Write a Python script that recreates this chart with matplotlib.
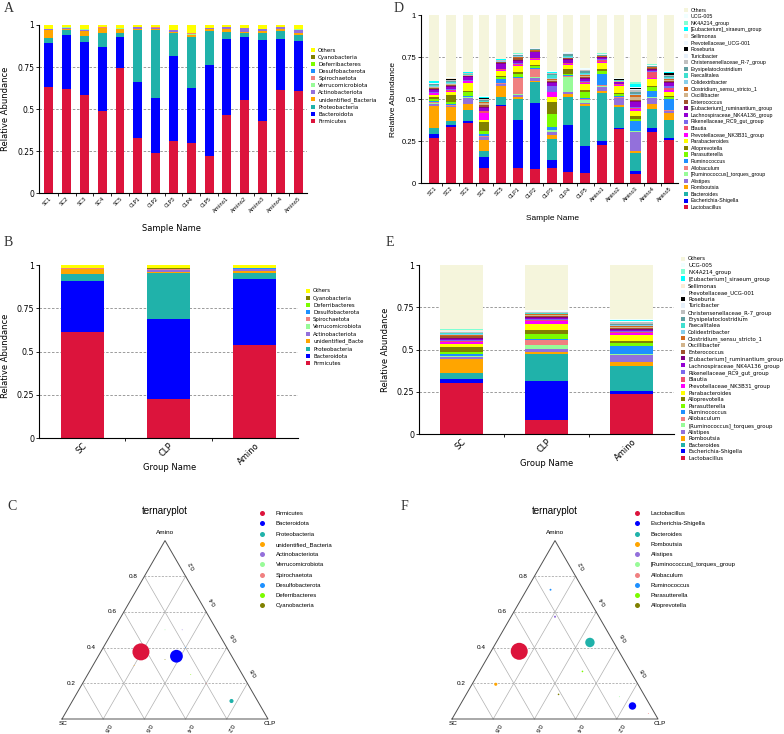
import matplotlib
matplotlib.use("Agg")
import matplotlib.pyplot as plt
import numpy as np
from matplotlib.patches import Patch
from matplotlib.lines import Line2D

# ---------------- data: phylum level (panel A, B, C) ----------------
samples = ["SC1", "SC2", "SC3", "SC4", "SC5", "CLP1", "CLP2", "CLP3", "CLP4", "CLP5",
           "Amino1", "Amino2", "Amino3", "Amino4", "Amino5"]
groups = ["SC", "CLP", "Amino"]

phyla = ["Firmicutes", "Bacteroidota", "Proteobacteria", "unidentified_Bacteria",
         "Actinobacteriota", "Verrucomicrobiota", "Spirochaetota", "Desulfobacterota",
         "Deferribacteres", "Cyanobacteria", "Others"]
phyla_legend_B = ["Firmicutes", "Bacteroidota", "Proteobacteria", "unidentified_Bacte",
                  "Actinobacteriota", "Verrucomicrobiota", "Spirochaetota", "Desulfobacterota",
                  "Deferribacteres", "Cyanobacteria", "Others"]
phyla_colors = ["#DC143C", "#0000FF", "#20B2AA", "#FFA500", "#9370DB", "#98FB98",
                "#F08080", "#1E90FF", "#7CFC00", "#808000", "#FFFF00"]

# per sample: Firm, Bact, Proteo, unid, Actino, Verruco, Spiro, Desulfo, Deferri, Cyano, Others
p_SC1 = [0.630, 0.261, 0.034, 0.045, 0.004, 0.001, 0.001, 0.001, 0.000, 0.001, 0.022]
p_SC2 = [0.620, 0.323, 0.026, 0.006, 0.010, 0.001, 0.004, 0.001, 0.000, 0.000, 0.009]
p_SC3 = [0.584, 0.313, 0.040, 0.030, 0.006, 0.001, 0.001, 0.000, 0.000, 0.000, 0.025]
p_SC4 = [0.489, 0.380, 0.085, 0.026, 0.004, 0.001, 0.002, 0.001, 0.000, 0.001, 0.011]
p_SC5 = [0.743, 0.186, 0.026, 0.020, 0.004, 0.001, 0.001, 0.000, 0.000, 0.000, 0.019]
p_CLP1 = [0.327, 0.336, 0.309, 0.006, 0.008, 0.001, 0.002, 0.001, 0.000, 0.000, 0.010]
p_CLP2 = [0.240, 0.324, 0.408, 0.004, 0.004, 0.001, 0.006, 0.001, 0.000, 0.000, 0.012]
p_CLP3 = [0.309, 0.509, 0.132, 0.010, 0.010, 0.001, 0.001, 0.000, 0.000, 0.000, 0.028]
p_CLP4 = [0.300, 0.324, 0.306, 0.010, 0.003, 0.006, 0.001, 0.000, 0.000, 0.000, 0.050]
p_CLP5 = [0.220, 0.542, 0.202, 0.010, 0.008, 0.001, 0.001, 0.000, 0.000, 0.000, 0.016]
p_Amino1 = [0.465, 0.452, 0.043, 0.016, 0.010, 0.001, 0.001, 0.001, 0.000, 0.000, 0.011]
p_Amino2 = [0.554, 0.375, 0.021, 0.010, 0.020, 0.001, 0.001, 0.000, 0.000, 0.000, 0.018]
p_Amino3 = [0.432, 0.479, 0.040, 0.016, 0.010, 0.001, 0.001, 0.000, 0.000, 0.000, 0.021]
p_Amino4 = [0.614, 0.303, 0.050, 0.010, 0.012, 0.001, 0.001, 0.000, 0.000, 0.000, 0.009]
p_Amino5 = [0.610, 0.297, 0.032, 0.014, 0.020, 0.001, 0.001, 0.000, 0.000, 0.000, 0.025]

# group means (panel B)
pg_SC = [0.615, 0.290, 0.044, 0.025, 0.004, 0.001, 0.001, 0.001, 0.001, 0.001, 0.017]
pg_CLP = [0.227, 0.461, 0.268, 0.006, 0.008, 0.002, 0.003, 0.002, 0.002, 0.001, 0.020]
pg_Amino = [0.538, 0.379, 0.035, 0.013, 0.012, 0.001, 0.001, 0.002, 0.001, 0.001, 0.017]

# ternary C (10 phyla, relative abundance per group)
tC_SC = [0.615, 0.290, 0.044, 0.025, 0.004, 0.001, 0.001, 0.001, 0.001, 0.001]
tC_CLP = [0.280, 0.410, 0.268, 0.010, 0.008, 0.001, 0.003, 0.002, 0.002, 0.001]
tC_Amino = [0.540, 0.380, 0.035, 0.015, 0.012, 0.002, 0.001, 0.002, 0.001, 0.001]

# ---------------- data: genus level (panel D, E, F) ----------------
genera = ["Lactobacillus", "Escherichia-Shigella", "Bacteroides", "Romboutsia", "Alistipes",
          "[Ruminococcus]_torques_group", "Allobaculum", "Ruminococcus", "Parasutterella",
          "Alloprevotella", "Parabacteroides", "Prevotellaceae_NK3B31_group", "Blautia",
          "Rikenellaceae_RC9_gut_group", "Lachnospiraceae_NK4A136_group",
          "[Eubacterium]_ruminantium_group", "Enterococcus", "Oscillibacter",
          "Clostridium_sensu_stricto_1", "Colidextribacter", "Faecalitalea",
          "Erysipelatoclostridium", "Christensenellaceae_R-7_group", "Turicibacter",
          "Roseburia", "Prevotellaceae_UCG-001", "Sellimonas", "[Eubacterium]_siraeum_group",
          "NK4A214_group", "UCG-005", "Others"]
genera_colors = ["#DC143C", "#0000FF", "#20B2AA", "#FFA500", "#9370DB", "#98FB98", "#F08080",
                 "#1E90FF", "#7CFC00", "#808000", "#FFFF00", "#FF00FF", "#F0506E", "#7B68EE",
                 "#9400D3", "#800080", "#A0522D", "#D2B48C", "#D2691E", "#87CEEB", "#40E0D0",
                 "#5F9EA0", "#C0C0C0", "#E6F0FA", "#000000", "#F0F8FF", "#FAEBD7", "#00FFFF",
                 "#7FFFD4", "#F0FFFF", "#F5F5DC"]

g_SC1 = [0.270, 0.020, 0.040, 0.130, 0.014, 0.004, 0.004, 0.006, 0.014, 0.008, 0.014, 0.010, 0.005, 0.006, 0.010,
         0.006, 0.006, 0.004, 0.004, 0.006, 0.003, 0.004, 0.003, 0.002, 0.002, 0.001, 0.001, 0.008, 0.002, 0.001, 0.392]
g_SC2 = [0.333, 0.012, 0.026, 0.080, 0.006, 0.003, 0.003, 0.006, 0.014, 0.044, 0.014, 0.010, 0.006, 0.004, 0.012,
         0.006, 0.005, 0.004, 0.004, 0.006, 0.003, 0.008, 0.004, 0.002, 0.004, 0.002, 0.002, 0.002, 0.003, 0.002, 0.370]
g_SC3 = [0.356, 0.014, 0.065, 0.036, 0.036, 0.004, 0.003, 0.004, 0.024, 0.006, 0.048, 0.010, 0.004, 0.005, 0.016,
         0.004, 0.004, 0.002, 0.002, 0.003, 0.002, 0.004, 0.002, 0.001, 0.001, 0.001, 0.001, 0.001, 0.002, 0.001, 0.338]
g_SC4 = [0.090, 0.065, 0.035, 0.070, 0.014, 0.003, 0.004, 0.010, 0.020, 0.054, 0.014, 0.040, 0.008, 0.005, 0.014,
         0.006, 0.016, 0.008, 0.006, 0.004, 0.003, 0.006, 0.004, 0.003, 0.002, 0.003, 0.002, 0.002, 0.003, 0.002, 0.484]
g_SC5 = [0.458, 0.006, 0.046, 0.068, 0.010, 0.004, 0.003, 0.024, 0.010, 0.008, 0.030, 0.006, 0.004, 0.004, 0.030,
         0.004, 0.003, 0.002, 0.002, 0.003, 0.002, 0.002, 0.002, 0.001, 0.001, 0.001, 0.001, 0.001, 0.002, 0.001, 0.261]
g_CLP1 = [0.090, 0.285, 0.125, 0.012, 0.014, 0.006, 0.092, 0.010, 0.016, 0.010, 0.036, 0.008, 0.006, 0.004, 0.014,
          0.006, 0.008, 0.004, 0.004, 0.004, 0.002, 0.006, 0.003, 0.001, 0.001, 0.001, 0.001, 0.001, 0.002, 0.002, 0.226]
g_CLP2 = [0.087, 0.390, 0.122, 0.010, 0.016, 0.004, 0.050, 0.004, 0.012, 0.008, 0.030, 0.006, 0.004, 0.004, 0.032,
          0.004, 0.003, 0.002, 0.002, 0.002, 0.001, 0.003, 0.002, 0.001, 0.001, 0.001, 0.001, 0.001, 0.001, 0.001, 0.195]
g_CLP3 = [0.088, 0.052, 0.125, 0.020, 0.022, 0.008, 0.004, 0.014, 0.078, 0.074, 0.030, 0.025, 0.004, 0.032, 0.022,
          0.004, 0.008, 0.004, 0.004, 0.006, 0.020, 0.006, 0.004, 0.001, 0.001, 0.001, 0.001, 0.004, 0.002, 0.001, 0.335]
g_CLP4 = [0.070, 0.278, 0.167, 0.018, 0.010, 0.090, 0.006, 0.004, 0.008, 0.026, 0.024, 0.008, 0.004, 0.004, 0.018,
          0.004, 0.004, 0.002, 0.002, 0.004, 0.004, 0.012, 0.004, 0.001, 0.001, 0.001, 0.001, 0.001, 0.001, 0.001, 0.222]
g_CLP5 = [0.063, 0.160, 0.235, 0.012, 0.008, 0.016, 0.006, 0.008, 0.036, 0.012, 0.032, 0.010, 0.006, 0.004, 0.012,
          0.006, 0.008, 0.004, 0.004, 0.008, 0.006, 0.012, 0.006, 0.001, 0.001, 0.001, 0.001, 0.002, 0.002, 0.001, 0.317]
g_Amino1 = [0.230, 0.022, 0.287, 0.012, 0.024, 0.003, 0.004, 0.070, 0.018, 0.010, 0.032, 0.006, 0.016, 0.004, 0.006,
            0.004, 0.003, 0.002, 0.002, 0.002, 0.002, 0.003, 0.003, 0.001, 0.001, 0.001, 0.001, 0.001, 0.002, 0.002, 0.226]
g_Amino2 = [0.322, 0.006, 0.128, 0.010, 0.040, 0.003, 0.003, 0.006, 0.010, 0.008, 0.040, 0.008, 0.004, 0.003, 0.008,
            0.003, 0.002, 0.002, 0.002, 0.002, 0.001, 0.002, 0.002, 0.001, 0.001, 0.001, 0.001, 0.001, 0.002, 0.001, 0.377]
g_Amino3 = [0.056, 0.020, 0.103, 0.014, 0.110, 0.005, 0.003, 0.060, 0.012, 0.014, 0.032, 0.012, 0.006, 0.006, 0.030,
            0.006, 0.006, 0.016, 0.012, 0.006, 0.004, 0.008, 0.014, 0.003, 0.008, 0.004, 0.004, 0.014, 0.012, 0.004, 0.396]
g_Amino4 = [0.303, 0.028, 0.111, 0.028, 0.036, 0.004, 0.004, 0.034, 0.022, 0.006, 0.046, 0.006, 0.034, 0.004, 0.010,
            0.004, 0.003, 0.002, 0.004, 0.002, 0.002, 0.002, 0.002, 0.001, 0.001, 0.001, 0.001, 0.002, 0.004, 0.002, 0.291]
g_Amino5 = [0.255, 0.012, 0.110, 0.038, 0.012, 0.003, 0.004, 0.065, 0.012, 0.010, 0.024, 0.008, 0.016, 0.012, 0.014,
            0.006, 0.008, 0.004, 0.008, 0.004, 0.004, 0.006, 0.008, 0.002, 0.008, 0.002, 0.002, 0.004, 0.002, 0.002, 0.335]

gg_SC = [0.301, 0.024, 0.040, 0.078, 0.016, 0.004, 0.001, 0.011, 0.014, 0.024, 0.018, 0.014, 0.006, 0.004, 0.010,
         0.006, 0.008, 0.004, 0.006, 0.004, 0.003, 0.005, 0.004, 0.003, 0.003, 0.002, 0.002, 0.004, 0.002, 0.001, 0.378]
gg_CLP = [0.085, 0.230, 0.157, 0.013, 0.016, 0.024, 0.030, 0.008, 0.030, 0.026, 0.035, 0.014, 0.008, 0.004, 0.008,
          0.006, 0.005, 0.004, 0.006, 0.004, 0.002, 0.004, 0.004, 0.001, 0.001, 0.001, 0.001, 0.001, 0.003, 0.002, 0.267]
gg_Amino = [0.236, 0.020, 0.148, 0.022, 0.043, 0.004, 0.001, 0.050, 0.016, 0.014, 0.033, 0.010, 0.008, 0.004, 0.008,
            0.004, 0.006, 0.006, 0.006, 0.004, 0.003, 0.008, 0.008, 0.002, 0.002, 0.002, 0.001, 0.006, 0.002, 0.002, 0.321]

# ternary F (top 10 genera)
tF_SC = [0.301, 0.024, 0.040, 0.078, 0.016, 0.004, 0.001, 0.011, 0.014, 0.024]
tF_CLP = [0.085, 0.230, 0.157, 0.013, 0.016, 0.024, 0.030, 0.008, 0.030, 0.026]
tF_Amino = [0.236, 0.020, 0.148, 0.022, 0.043, 0.004, 0.001, 0.050, 0.016, 0.008]

# ---------------- figure ----------------
W, H = 784, 734
fig = plt.figure(figsize=(W / 100, H / 100), dpi=100)
SANS1 = "DejaVu Sans"
SANS2 = "Liberation Sans"
SERIF = "Liberation Serif"


def fr(x0, y_top, w, h):
    return [x0 / W, 1 - (y_top + h) / H, w / W, h / H]


def stacked(ax, labels, mat, colors, width, xlim, font, tick_fs, lab_fs, xrot_fs, xlabel,
            ylab_xy, xlab_xy):
    x = np.arange(len(labels))
    bottom = np.zeros(len(labels))
    for i in range(mat.shape[0]):
        ax.bar(x, mat[i], width, bottom=bottom, color=colors[i], linewidth=0, zorder=2)
        bottom += mat[i]
    for gy in [0.25, 0.5, 0.75]:
        ax.axhline(gy, color="#8c8c8c", lw=0.6, ls=(0, (3, 2)), zorder=1)
    ax.set_xlim(*xlim)
    ax.set_ylim(0, 1)
    ax.set_yticks([0, 0.25, 0.5, 0.75, 1])
    ax.set_yticklabels(["0", "0.25", "0.5", "0.75", "1"], fontsize=tick_fs, family=font)
    ax.set_xticks(x)
    ax.set_xticklabels(labels, rotation=45, ha="right", rotation_mode="anchor",
                       fontsize=xrot_fs, family=font)
    ax.set_xticks(np.arange(len(labels) - 1) + 0.5, minor=True)
    ax.tick_params(axis="x", which="major", length=0, pad=2)
    ax.tick_params(axis="x", which="minor", length=2, width=0.6)
    ax.tick_params(axis="y", length=2, width=0.6, pad=1.5)
    for s in ["top", "right"]:
        ax.spines[s].set_visible(False)
    for s in ["left", "bottom"]:
        ax.spines[s].set_linewidth(0.8)
    ax.set_ylabel("Relative Abundance", fontsize=lab_fs, family=font)
    ax.set_xlabel(xlabel, fontsize=lab_fs, family=font)
    ax.yaxis.set_label_coords(*ylab_xy)
    ax.xaxis.set_label_coords(*xlab_xy)


def legend_sq(ax, names, colors, x_px, y_px, fs, font, spacing):
    handles = [Patch(facecolor=c, edgecolor="none") for c in colors][::-1]
    ax.legend(handles, names[::-1], loc="upper left", bbox_to_anchor=(x_px / W, 1 - y_px / H),
              bbox_transform=fig.transFigure, frameon=False, prop={"family": font, "size": fs},
              handlelength=0.8, handleheight=0.8, handletextpad=0.5, labelspacing=spacing,
              borderpad=0, borderaxespad=0)


# Panel A
pA = np.array([p_SC1, p_SC2, p_SC3, p_SC4, p_SC5, p_CLP1, p_CLP2, p_CLP3, p_CLP4, p_CLP5,
               p_Amino1, p_Amino2, p_Amino3, p_Amino4, p_Amino5]).T
axA = fig.add_axes(fr(39, 25, 268, 168.3))
stacked(axA, samples, pA, phyla_colors, 0.5, (-0.55, 14.5), SANS1, 5.5, 6, 3.8, "Sample Name",
        (-0.108, 0.5), (0.496, -0.182))
legend_sq(axA, phyla, phyla_colors, 311, 48, 4.0, SANS1, 0.35)

# Panel D
gD = np.array([g_SC1, g_SC2, g_SC3, g_SC4, g_SC5, g_CLP1, g_CLP2, g_CLP3, g_CLP4, g_CLP5,
               g_Amino1, g_Amino2, g_Amino3, g_Amino4, g_Amino5]).T
axD = fig.add_axes(fr(421, 15, 256.5, 168.3))
stacked(axD, samples, gD, genera_colors, 0.6, (-0.78, 14.5), SANS2, 5.5, 6, 4.0, "Sample Name",
        (-0.094, 0.5), (0.511, -0.188))
legend_sq(axD, genera, genera_colors, 684, 7.5, 3.8, SANS2, 0.30)

# Panel B
pB = np.array([pg_SC, pg_CLP, pg_Amino]).T
axB = fig.add_axes(fr(39, 265, 259, 173))
stacked(axB, groups, pB, phyla_colors, 0.5, (-0.5, 2.5), SANS1, 5.7, 6, 6, "Group Name",
        (-0.112, 0.474), (0.506, -0.145))
legend_sq(axB, phyla_legend_B, phyla_colors, 306, 288.5, 3.9, SANS1, 0.40)

# Panel E
gE = np.array([gg_SC, gg_CLP, gg_Amino]).T
axE = fig.add_axes(fr(419, 265, 255, 169.3))
stacked(axE, groups, gE, genera_colors, 0.5, (-0.5, 2.5), SANS1, 5.7, 6, 6, "Group Name",
        (-0.112, 0.5), (0.502, -0.146))
legend_sq(axE, genera, genera_colors, 681, 256.5, 3.9, SANS1, 0.26)

# Ternary panels
S3 = np.sqrt(3) / 2


def txy(sc, clp, am):
    sc, clp, am = map(np.asarray, (sc, clp, am))
    s = sc + clp + am
    c, a = clp / s, am / s
    return c + a / 2, a * S3


def ternary(ax, ax_w, names, colors, sc, clp, am, dmax_px, leg_x):
    ax.set_xlim(-62 / 206, (ax_w - 62) / 206)
    ax.set_ylim(-15 / 206, 229 / 206)
    ax.axis("off")
    for v in [0.2, 0.4, 0.6, 0.8]:
        x1, y1 = txy(1 - v, 0, v)
        x2, y2 = txy(0, 1 - v, v)
        ax.plot([x1, x2], [y1, y2], color="#9a9a9a", lw=0.5, ls=(0, (3, 2)), zorder=1)
        x1, y1 = txy(1 - v, v, 0)
        x2, y2 = txy(0, v, 1 - v)
        ax.plot([x1, x2], [y1, y2], color="#b0b0b0", lw=0.5, zorder=1)
        x1, y1 = txy(v, 1 - v, 0)
        x2, y2 = txy(v, 0, 1 - v)
        ax.plot([x1, x2], [y1, y2], color="#b0b0b0", lw=0.5, zorder=1)
        xl, yl = txy(1 - v, 0, v)
        ax.text(xl - 0.035, yl, f"{v:.1f}", ha="right", va="center", fontsize=4.6, family=SANS2)
        xr, yr = txy(0, v, 1 - v)
        ax.text(xr + 0.034, yr + 0.053, f"{v:.1f}", ha="center", va="center", fontsize=4.6,
                family=SANS2, rotation=120)
        xb, yb = txy(v, 1 - v, 0)
        ax.text(xb + 0.016, yb - 0.04, f"{v:.1f}", ha="center", va="center", fontsize=4.6,
                family=SANS2, rotation=-120)
    ax.plot([0, 1, 0.5, 0], [0, 0, S3, 0], color="#505050", lw=0.7, zorder=2)
    ax.text(0.5, 0.903, "Amino", ha="center", va="center", fontsize=4.6, family=SANS2)
    ax.text(0.005, -0.02, "SC", ha="center", va="center", fontsize=4.6, family=SANS2)
    ax.text(1.01, -0.02, "CLP", ha="center", va="center", fontsize=4.6, family=SANS2)
    ax.text(0.5, 1.01, "ternaryplot", ha="center", va="center", fontsize=7, family=SANS2)
    x, y = txy(sc, clp, am)
    mean = (np.asarray(sc) + np.asarray(clp) + np.asarray(am)) / 3
    d_px = np.maximum(dmax_px * mean / mean.max(), 0.8)
    ax.scatter(x, y, s=(d_px * 0.72) ** 2, c=colors, linewidths=0, zorder=3)
    handles = [Line2D([], [], ls="none", marker="o", markersize=3.6, markerfacecolor=c,
                      markeredgewidth=0) for c in colors]
    ax.legend(handles, names, loc="upper left", bbox_to_anchor=(leg_x / W, 1 - 511 / H),
              bbox_transform=fig.transFigure, frameon=False, prop={"family": SANS2, "size": 4.3},
              handlelength=1.0, handletextpad=1.8, labelspacing=0.85, borderpad=0,
              borderaxespad=0)


axC = fig.add_axes(fr(0, 490, 390, 244))
ternary(axC, 390, phyla[:10], phyla_colors[:10], tC_SC, tC_CLP, tC_Amino, 17, 259)
axF = fig.add_axes(fr(390, 490, 394, 244))
ternary(axF, 394, genera[:10], genera_colors[:10], tF_SC, tF_CLP, tF_Amino, 17, 634)

# Panel letters
for lab, (px, py) in {"A": (9, 9), "D": (399, 9), "B": (8, 242), "E": (390, 242),
                      "C": (12, 506), "F": (404, 506)}.items():
    fig.text(px / W, 1 - py / H, lab, fontsize=10, family=SERIF, ha="center", va="center",
             color="#333333")

fig.savefig("out.png", dpi=100)
